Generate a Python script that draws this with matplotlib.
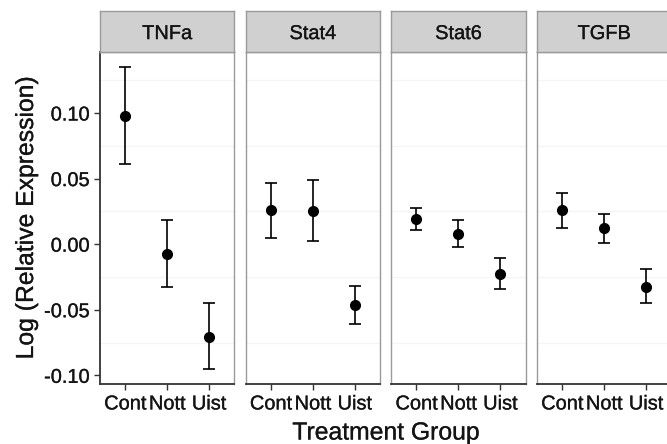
import matplotlib
matplotlib.use("Agg")
import matplotlib.pyplot as plt
import matplotlib.patheffects as pe
import numpy as np

genes = ["TNFa", "Stat4", "Stat6", "TGFB"]
groups = ["Cont", "Nott", "Uist"]
means = {
    "TNFa": [0.098, -0.0074, -0.0706],
    "Stat4": [0.026, 0.0253, -0.0467],
    "Stat6": [0.0191, 0.0077, -0.0230],
    "TGFB": [0.026, 0.012, -0.0326],
}
upper = {
    "TNFa": [0.135, 0.0181, -0.0449],
    "Stat4": [0.047, 0.049, -0.0318],
    "Stat6": [0.0279, 0.0184, -0.0107],
    "TGFB": [0.0393, 0.0227, -0.0191],
}
lower = {
    "TNFa": [0.0612, -0.0326, -0.0951],
    "Stat4": [0.0049, 0.0026, -0.0607],
    "Stat6": [0.0105, -0.0025, -0.0344],
    "TGFB": [0.012, 0.0008, -0.0449],
}
yticks = [-0.10, -0.05, 0.00, 0.05, 0.10]
ytick_labels = ["-0.10", "-0.05", "0.00", "0.05", "0.10"]
minor_ticks = [-0.075, -0.025, 0.025, 0.075, 0.125]

W, H = 667, 444
fig = plt.figure(figsize=(W / 100, H / 100), dpi=100)
plt.rcParams["font.family"] = ["Liberation Sans", "DejaVu Sans"]

allv = np.concatenate([np.array(upper[g] + lower[g]) for g in genes])
rng = allv.max() - allv.min()
ylim = (allv.min() - 0.05 * rng, allv.max() + 0.05 * rng)

lefts = [100, 245.7, 391.3, 537]
pw = 134.3
ptop, pbot = 52, 384
stop = 11

border = "#9a9a9a"
axcol = "#333333"
txtcol = "#141414"
thick = [pe.withStroke(linewidth=0.2, foreground=txtcol)]

for i, g in enumerate(genes):
    ax = fig.add_axes([lefts[i] / W, 1 - pbot / H, pw / W, (pbot - ptop) / H])
    x = np.arange(len(groups))
    m = np.array(means[g])
    up = np.array(upper[g]) - m
    lo = m - np.array(lower[g])
    ax.errorbar(x, m, yerr=[lo, up], fmt="o", color="black", ms=7.0,
                capsize=4.2, capthick=1.2, elinewidth=1.2, zorder=3)
    ax.set_xlim(-0.6, len(groups) - 0.4)
    ax.set_ylim(*ylim)
    ax.set_xticks(x)
    ax.set_xticklabels(groups, fontsize=14.4, color=txtcol)
    ax.set_yticks(yticks)
    ax.set_yticks(minor_ticks, minor=True)
    ax.grid(True, which="minor", axis="y", color="#f5f5f5", lw=1.0, zorder=0)
    ax.tick_params(axis="y", which="minor", length=0)
    ax.tick_params(axis="both", which="major", length=4.5, width=1, color=axcol,
                   direction="out", pad=3)
    if i == 0:
        ax.set_yticklabels(ytick_labels, fontsize=14.4, color=txtcol)
    else:
        ax.tick_params(axis="y", which="major", left=False, labelleft=False)
    for lab in ax.get_xticklabels() + ax.get_yticklabels():
        lab.set_path_effects(thick)
    for s in ["top", "right"]:
        ax.spines[s].set_color(border)
        ax.spines[s].set_linewidth(1.0)
    ax.spines["bottom"].set_color(axcol)
    ax.spines["bottom"].set_linewidth(1.3)
    if i == 0:
        ax.spines["left"].set_color(axcol)
        ax.spines["left"].set_linewidth(1.3)
    else:
        ax.spines["left"].set_color(border)
        ax.spines["left"].set_linewidth(1.0)
    # strip
    sax = fig.add_axes([lefts[i] / W, 1 - ptop / H, pw / W, (ptop - stop) / H])
    sax.set_xlim(0, 1)
    sax.set_ylim(0, 1)
    sax.set_facecolor("#d0d0d0")
    sax.set_xticks([])
    sax.set_yticks([])
    for s in sax.spines.values():
        s.set_color(border)
        s.set_linewidth(1.0)
    sax.text(0.5, 0.45, g, ha="center", va="center", fontsize=14.4,
             color=txtcol, path_effects=thick)

fig.text(26 / W, 1 - 218 / H, "Log (Relative Expression)", rotation=90,
         ha="center", va="center", fontsize=17.8, color=txtcol,
         path_effects=thick)
fig.text(386 / W, 1 - 439.5 / H, "Treatment Group", ha="center", va="baseline",
         fontsize=17.8, color=txtcol, path_effects=thick)

fig.savefig("out.png", dpi=100)
